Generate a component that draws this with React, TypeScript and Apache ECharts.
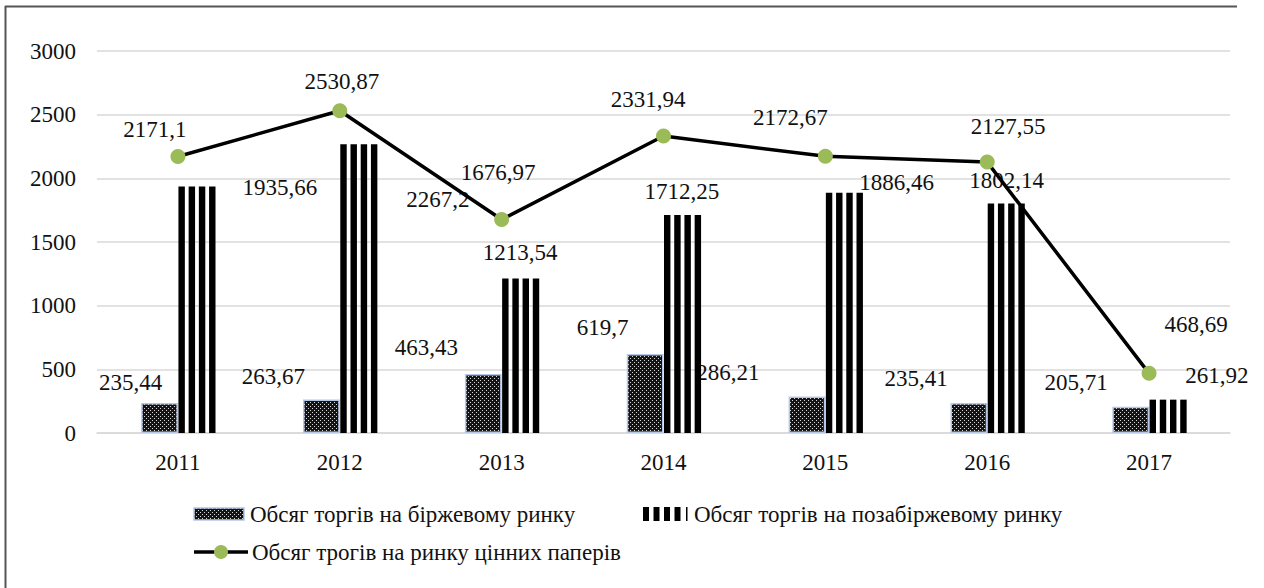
import React, { useEffect, useRef } from "react";
import * as echarts from "echarts";

const years = ["2011", "2012", "2013", "2014", "2015", "2016", "2017"];
const exchange = [235.44, 263.67, 463.43, 619.7, 286.21, 235.41, 205.71];
const otc = [1935.66, 2267.2, 1213.54, 1712.25, 1886.46, 1802.14, 261.92];
const total = [2171.1, 2530.87, 1676.97, 2331.94, 2172.67, 2127.55, 468.69];
const yMin = 0;
const yMax = 3000;
const yInterval = 500;

const nameExchange = "Обсяг торгів на біржевому ринку";
const nameOtc = "Обсяг торгів на позабіржевому ринку";
const nameTotal = "Обсяг трогів на ринку цінних паперів";

// label offsets (layout only)
const exchangeLabelOffsets = [[-29, -4.5], [-48, -6], [-57, -9.5], [-42.5, -9.6], [-79, -8], [-52.7, -8.5], [-54.6, -8]];
const otcLabelOffsets = [[83.6, 17], [79.7, 72], [0, -9], [0, -6.5], [53, 6.7], [1, -7], [49.4, -8]];
const totalLabelOffsets = [[-23, -3], [2, -5], [-3.6, -23], [-15.5, -12.6], [-35, -15], [21, -11.6], [47, -25]];

const FONT = "Liberation Serif";
const BAR_FRAC = 0.227;

function fmt(v: number) {
  return String(v).replace(".", ",");
}

function makeDotPattern() {
  const c = document.createElement("canvas");
  c.width = 4;
  c.height = 4;
  const ctx = c.getContext("2d")!;
  ctx.fillStyle = "#141414";
  ctx.fillRect(0, 0, 4, 4);
  ctx.fillStyle = "#d8d8d8";
  ctx.fillRect(0, 0, 1, 1);
  ctx.fillRect(2, 2, 1, 1);
  return c;
}

export default function App() {
  const ref = useRef<HTMLDivElement>(null);
  useEffect(() => {
    document.body.style.margin = "0";
    const chart = echarts.init(ref.current!, null, { renderer: "svg" });
    const pattern = makeDotPattern();
    const labelStyle = { fontFamily: FONT, fontSize: 23, color: "#111" };

    const option: any = {
      animation: false,
      backgroundColor: "#fff",
      textStyle: { fontFamily: FONT },
      grid: { left: 97, right: 34, top: 51, bottom: 155, containLabel: false },
      xAxis: {
        type: "category",
        data: years,
        axisTick: { show: false },
        axisLine: { lineStyle: { color: "#d9d9d9", width: 1.5 } },
        axisLabel: { fontFamily: FONT, fontSize: 23, color: "#111", margin: 18 },
      },
      yAxis: {
        type: "value",
        min: yMin,
        max: yMax,
        interval: yInterval,
        axisLine: { show: false },
        axisTick: { show: false },
        splitLine: { lineStyle: { color: "#d9d9d9", width: 1.5 } },
        axisLabel: { fontFamily: FONT, fontSize: 23, color: "#111", margin: 21, formatter: (v: number) => String(v) },
      },
      series: [
        {
          name: nameExchange,
          type: "bar",
          barWidth: (BAR_FRAC * 100).toFixed(1) + "%",
          barGap: "0%",
          itemStyle: {
            color: { image: pattern, repeat: "repeat" },
            borderColor: "#b4c7e7",
            borderWidth: 1.5,
          },
          label: { show: true, position: "top", formatter: (p: any) => fmt(p.value), ...labelStyle },
          data: exchange.map((v, i) => ({ value: v, label: { offset: exchangeLabelOffsets[i] } })),
        },
        {
          name: nameOtc,
          type: "bar",
          barWidth: (BAR_FRAC * 100).toFixed(1) + "%",
          barGap: "0%",
          itemStyle: { color: "rgba(0,0,0,0)" },
          label: { show: true, position: "top", formatter: (p: any) => fmt(p.value), ...labelStyle },
          data: otc.map((v, i) => ({ value: v, label: { offset: otcLabelOffsets[i] } })),
        },
        {
          name: nameOtc + " ",
          type: "custom",
          silent: true,
          z: 3,
          renderItem: (params: any, api: any) => {
            const idx = api.value(0);
            const val = api.value(1);
            const base = api.coord([idx, 0]);
            const top = api.coord([idx, val]);
            const band = api.size([1, 0])[0];
            const w = band * BAR_FRAC;
            const x0 = base[0];
            const children = [] as any[];
            for (let k = 0; k < 4; k++) {
              children.push({
                type: "rect",
                shape: { x: x0 + 0.5 + k * w * 0.278, y: top[1], width: w * 0.175, height: base[1] - top[1] },
                style: { fill: "#000" },
              });
            }
            return { type: "group", children };
          },
          encode: { x: 0, y: 1 },
          data: otc.map((v, i) => [i, v]),
        },
        {
          name: nameTotal,
          type: "line",
          z: 4,
          symbol: "circle",
          symbolSize: 15,
          lineStyle: { color: "#000", width: 3.5 },
          itemStyle: { color: "#9bbb59" },
          label: { show: true, position: "top", formatter: (p: any) => fmt(p.value), ...labelStyle },
          data: total.map((v, i) => ({ value: v, label: { offset: totalLabelOffsets[i] } })),
        },
      ],
      graphic: [
        { type: "line", shape: { x1: 5.5, y1: 6, x2: 5.5, y2: 588 }, style: { stroke: "#555", lineWidth: 2 } },
        { type: "line", shape: { x1: 5, y1: 6.5, x2: 1237, y2: 6.5 }, style: { stroke: "#555", lineWidth: 2 } },
        {
          type: "rect",
          shape: { x: 194, y: 508, width: 50, height: 12 },
          style: { fill: { image: pattern, repeat: "repeat" } as any, stroke: "#b4c7e7", lineWidth: 1.5 },
        },
        {
          type: "text",
          x: 250,
          y: 514,
          style: { text: nameExchange, fontFamily: FONT, fontSize: 23, fill: "#111", verticalAlign: "middle" },
        },
        { type: "rect", shape: { x: 643, y: 507, width: 6, height: 14 }, style: { fill: "#000" } },
        { type: "rect", shape: { x: 653.5, y: 507, width: 6, height: 14 }, style: { fill: "#000" } },
        { type: "rect", shape: { x: 664, y: 507, width: 6, height: 14 }, style: { fill: "#000" } },
        { type: "rect", shape: { x: 674.5, y: 507, width: 6, height: 14 }, style: { fill: "#000" } },
        { type: "rect", shape: { x: 686, y: 507, width: 1.5, height: 14 }, style: { fill: "#000" } },
        {
          type: "text",
          x: 694,
          y: 514,
          style: { text: nameOtc, fontFamily: FONT, fontSize: 23, fill: "#111", verticalAlign: "middle" },
        },
        { type: "line", shape: { x1: 194, y1: 552, x2: 248, y2: 552 }, style: { stroke: "#000", lineWidth: 3.5 } },
        { type: "circle", shape: { cx: 221, cy: 552, r: 7 }, style: { fill: "#9bbb59" } },
        {
          type: "text",
          x: 252,
          y: 552,
          style: { text: nameTotal, fontFamily: FONT, fontSize: 23, fill: "#111", verticalAlign: "middle" },
        },
      ],
    };
    chart.setOption(option);
    return () => chart.dispose();
  }, []);
  return <div ref={ref} style={{ width: 1264, height: 588 }} />;
}
